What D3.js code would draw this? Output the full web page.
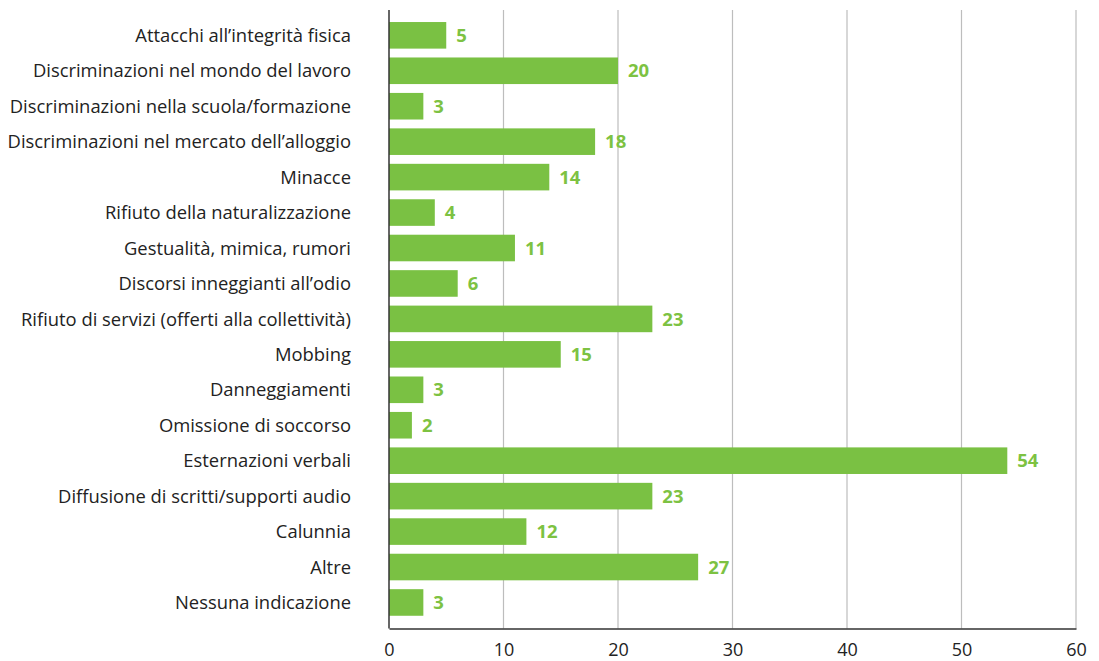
<!DOCTYPE html>
<html>
<head>
<meta charset="utf-8">
<script src="https://cdn.jsdelivr.net/npm/d3@7"></script>
<style>
  html, body { margin: 0; padding: 0; background: #fff; }
  svg { display: block; }
</style>
</head>
<body>
<svg id="chart" width="1099" height="661"></svg>
<script>
// Reported incidents by type
const categories = [
  "Attacchi all’integrità fisica",
  "Discriminazioni nel mondo del lavoro",
  "Discriminazioni nella scuola/formazione",
  "Discriminazioni nel mercato dell’alloggio",
  "Minacce",
  "Rifiuto della naturalizzazione",
  "Gestualità, mimica, rumori",
  "Discorsi inneggianti all’odio",
  "Rifiuto di servizi (offerti alla collettività)",
  "Mobbing",
  "Danneggiamenti",
  "Omissione di soccorso",
  "Esternazioni verbali",
  "Diffusione di scritti/supporti audio",
  "Calunnia",
  "Altre",
  "Nessuna indicazione"
];
const values = [5, 20, 3, 18, 14, 4, 11, 6, 23, 15, 3, 2, 54, 23, 12, 27, 3];
const xTicks = [0, 10, 20, 30, 40, 50, 60];

const font = "'Open Sans', sans-serif";
const svg = d3.select("#chart");

const x = d3.scaleLinear().domain([0, 60]).range([389, 1076]);
const y = d3.scaleBand()
  .domain(categories)
  .range([17.6, 620.2])
  .paddingInner(0.25)
  .paddingOuter(0.125);

const axisTop = 10, axisBottom = 628.5;

// vertical gridlines
svg.append("g").selectAll("line")
  .data(xTicks.filter(d => d > 0))
  .join("line")
  .attr("x1", d => x(d)).attr("x2", d => x(d))
  .attr("y1", axisTop).attr("y2", axisBottom)
  .attr("stroke", "#bdbdbd").attr("stroke-width", 1.2);

// bars
svg.append("g").selectAll("rect")
  .data(values)
  .join("rect")
  .attr("x", x(0))
  .attr("y", (d, i) => y(categories[i]))
  .attr("width", d => x(d) - x(0))
  .attr("height", y.bandwidth())
  .attr("fill", "#7ac143");

// value labels
svg.append("g").selectAll("text")
  .data(values)
  .join("text")
  .attr("x", d => x(d) + 10)
  .attr("y", (d, i) => y(categories[i]) + y.bandwidth() / 2)
  .attr("dy", "0.36em")
  .attr("font-family", font)
  .attr("font-weight", "bold")
  .attr("font-size", 18.5)
  .attr("fill", "#7dc242")
  .text(d => d);

// category labels
svg.append("g").selectAll("text")
  .data(categories)
  .join("text")
  .attr("x", 351)
  .attr("y", d => y(d) + y.bandwidth() / 2)
  .attr("dy", "0.36em")
  .attr("text-anchor", "end")
  .attr("font-family", font)
  .attr("font-size", 18.4)
  .attr("fill", "#222")
  .text(d => d);

// x axis
const xAxis = d3.axisBottom(x).tickValues(xTicks).tickSize(0).tickPadding(15);
const gx = svg.append("g").attr("transform", `translate(0,${axisBottom})`).call(xAxis);
gx.select(".domain").attr("stroke", "#333").attr("stroke-width", 1.5);
gx.selectAll("text").attr("font-family", font).attr("font-size", 18).attr("fill", "#222");

// y axis line
svg.append("line")
  .attr("x1", x(0)).attr("x2", x(0))
  .attr("y1", axisTop).attr("y2", axisBottom)
  .attr("stroke", "#333").attr("stroke-width", 1.5);
</script>
</body>
</html>
